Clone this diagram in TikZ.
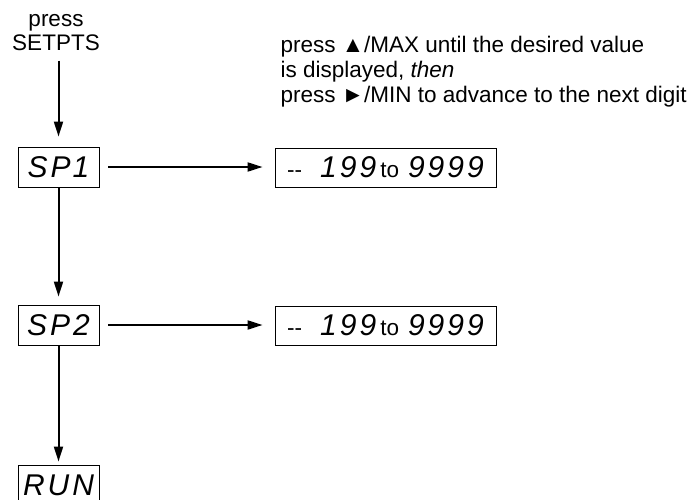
\documentclass[tikz,border=0pt]{standalone}
\usepackage{fontspec}
\setmainfont{Liberation Sans}
\usetikzlibrary{arrows.meta}

\newcommand{\lcd}[1]{{\fontsize{30}{30}\selectfont\itshape\addfontfeatures{LetterSpace=10}#1}}

\begin{document}
\begin{tikzpicture}[x = 1pt, y = -1pt, font = \fontsize{22.5}{25}\selectfont,
  display/.style = {draw, line width = 0.9pt, inner sep = 0pt, minimum width = 81pt, minimum height = 40pt},
  rangebox/.style = {draw, line width = 0.9pt, inner sep = 0pt, minimum width = 221pt, minimum height = 39pt},
  flow/.style = {-{Triangle[length = 15pt, width = 9pt]}, line width = 2pt}]
\useasboundingbox (0,0) rectangle (690,500);
\node[align = center, font = \fontsize{22.5}{24}\selectfont] (press) at (56,33) {press\\SETPTS};
\node[anchor = north west, align = left] (hint) at (277,33) {press ▲/MAX until the desired value\\is displayed, \textit{then}\\press ►/MIN to advance to the next digit};
\node[display] (sp1) at (58.5,167) {\lcd{SP\hspace{2pt}1}};
\node[display] (sp2) at (58.5,325) {\lcd{SP2}};
\node[display] (run) at (58.5,485) {\lcd{RUN}};
\node[rangebox] (r1) at (385.5,167.5) {-{}-\hspace{18pt}\lcd{199}\hspace{4pt}to\hspace{9pt}\lcd{9999}\hspace{6pt}};
\node[rangebox] (r2) at (385.5,325.5) {-{}-\hspace{18pt}\lcd{199}\hspace{4pt}to\hspace{9pt}\lcd{9999}\hspace{6pt}};
\draw [flow, shorten < = 6pt, shorten > = 10pt] (press.south -| sp1) -- (sp1.north);
\draw [flow, shorten > = 8pt] (sp1.south) -- (sp2.north);
\draw [flow, shorten > = 3pt] (sp2.south) -- (run.north);
\draw [flow, shorten < = 9pt, shorten > = 12pt] (sp1.east) -- (r1.west |- sp1.east);
\draw [flow, shorten < = 9pt, shorten > = 12pt] (sp2.east) -- (r2.west |- sp2.east);
\end{tikzpicture}
\end{document}
